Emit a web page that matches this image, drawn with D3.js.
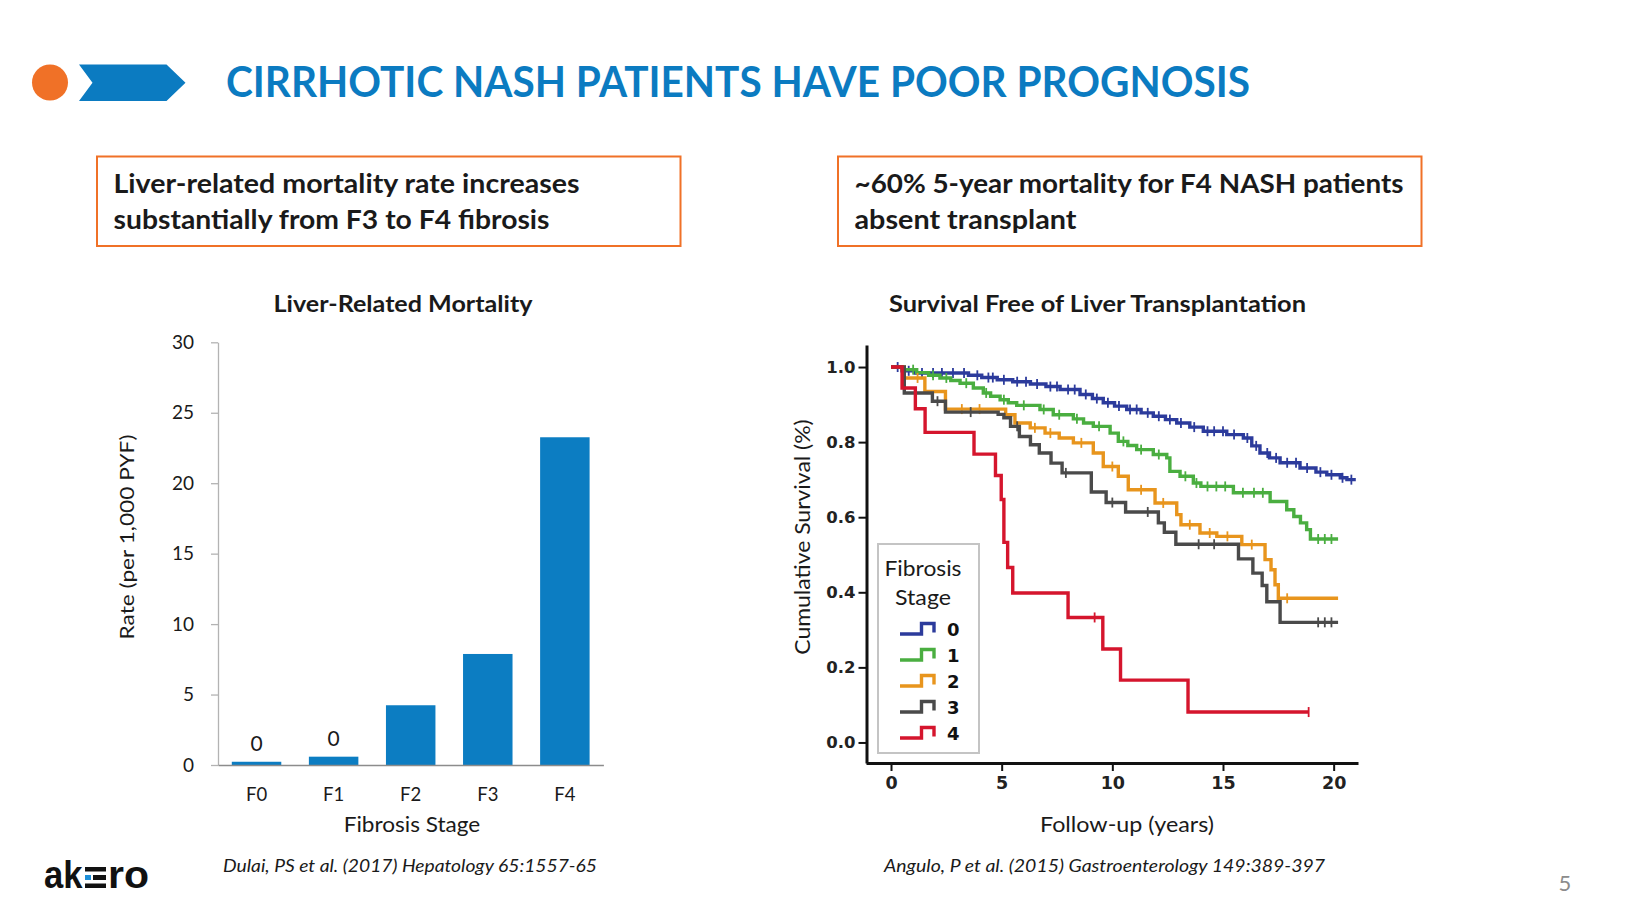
<!DOCTYPE html>
<html><head><meta charset="utf-8">
<script src="https://cdn.jsdelivr.net/npm/d3@7/dist/d3.min.js"></script>
<style>
html,body{margin:0;padding:0;background:#fff;}
svg{display:block;}
</style></head><body>
<svg id="slide" width="1634" height="919"></svg>
<script>
// ---------- data ----------
const categories = ["F0", "F1", "F2", "F3", "F4"];
const rates = [0.23, 0.59, 4.24, 7.88, 23.26];
const rateLabels = ["0", "0", "", "", ""];
const rateTicks = [0, 5, 10, 15, 20, 25, 30];

const yearTicks = [0, 5, 10, 15, 20];
const survivalTicks = [0, 0.2, 0.4, 0.6, 0.8, 1.0];
const stageNames = ["0", "1", "2", "3", "4"];

// Kaplan-Meier steps [years, survival]
const stage0Steps = [[0,1],[0.5,0.99],[1.1,0.984],[3.5,0.978],[4.1,0.972],[4.8,0.966],[5.5,0.961],[6.3,0.955],[7.0,0.948],[7.64,0.94],[8.54,0.927],[9.1,0.916],[9.59,0.905],[10.1,0.896],[10.65,0.887],[11.3,0.878],[11.85,0.869],[12.4,0.86],[12.91,0.851],[13.5,0.84],[14.11,0.829],[15.17,0.82],[15.92,0.811],[16.3,0.79],[16.67,0.771],[17.1,0.758],[17.58,0.745],[18.48,0.731],[19.2,0.72],[19.69,0.713],[20.3,0.705],[20.6,0.7]];
const stage1Steps = [[0,1],[0.5,0.993],[1.16,0.985],[1.7,0.978],[2.21,0.971],[2.7,0.964],[3.12,0.957],[3.72,0.944],[4.17,0.931],[4.5,0.922],[4.93,0.913],[5.3,0.905],[5.68,0.898],[6.73,0.887],[7.33,0.873],[8.24,0.862],[8.7,0.851],[9.14,0.842],[9.9,0.824],[10.27,0.802],[10.7,0.791],[11.1,0.78],[11.85,0.767],[12.46,0.758],[12.6,0.722],[13.06,0.709],[13.66,0.691],[14.0,0.682],[15.47,0.665],[17.13,0.642],[17.88,0.62],[18.2,0.602],[18.5,0.585],[18.78,0.567],[18.95,0.542]];
const stage2Steps = [[0,1],[0.6,0.971],[1.53,0.935],[2.46,0.888],[5.18,0.873],[5.6,0.851],[6.29,0.838],[6.96,0.824],[7.6,0.811],[8.24,0.798],[9.14,0.771],[9.59,0.735],[10.27,0.709],[10.72,0.673],[11.93,0.638],[12.91,0.607],[13.1,0.58],[13.96,0.558],[14.72,0.549],[15.85,0.527],[16.9,0.487],[17.17,0.46],[17.35,0.42],[17.5,0.384]];
const stage3Steps = [[0,1],[0.6,0.931],[1.87,0.909],[2.46,0.88],[4.84,0.874],[5.1,0.865],[5.4,0.842],[5.8,0.815],[6.3,0.793],[6.7,0.771],[7.23,0.744],[7.73,0.718],[9.05,0.667],[9.72,0.639],[10.6,0.614],[12.08,0.585],[12.35,0.56],[12.87,0.528],[15.7,0.489],[16.35,0.451],[16.77,0.418],[16.98,0.375],[17.58,0.32]];
const stage4Steps = [[0,1],[0.5,0.944],[1.1,0.889],[1.54,0.826],[3.75,0.768],[4.72,0.711],[4.98,0.647],[5.1,0.533],[5.27,0.466],[5.5,0.398],[8.0,0.333],[9.57,0.249],[10.37,0.166],[13.42,0.081]];
const stageEnds = [21.0, 20.2, 20.2, 20.2, 18.87];

// censoring marks (years)
const stage0Censors = [0.3,0.8,1.4,1.9,2.3,2.8,3.3,3.9,4.4,4.6,5.1,5.7,6.1,6.6,7.2,7.5,8.0,8.3,8.8,9.3,9.8,10.3,10.8,11.1,11.6,12.1,12.6,13.1,13.7,14.3,14.6,15.0,15.5,16.1,16.5,17.0,17.4,17.9,18.3,18.8,19.4,19.9,20.4,20.8];
const stage1Censors = [1.0,1.9,2.5,3.4,4.3,5.1,6.0,6.9,7.6,8.4,9.4,10.5,11.3,12.1,13.3,13.8,14.3,14.7,15.1,15.9,16.4,16.8,19.3,19.6,19.9];
const stage2Censors = [1.2,3.2,4.0,6.5,7.2,8.6,10.0,11.3,12.3,13.5,14.4,15.2,16.3,17.9];
const stage3Censors = [2.1,3.6,5.7,7.9,10.0,11.6,13.9,14.6,19.3,19.6,19.9];
const stage4Censors = [9.2, 18.87];

const stageSteps = [stage0Steps, stage1Steps, stage2Steps, stage3Steps, stage4Steps];
const stageCensors = [stage0Censors, stage1Censors, stage2Censors, stage3Censors, stage4Censors];

// ---------- styles ----------
const BLUE = "#0b7bc1";
const ORANGE = "#f07127";
const stageColors = ["#2c3b9c", "#4aae40", "#e8951d", "#4a4a4a", "#d5152d"];
const SANS = "Lato, 'Open Sans', sans-serif";

const svg = d3.select("#slide");

// ---------- header ----------
svg.append("circle").attr("cx", 50).attr("cy", 82.5).attr("r", 18).attr("fill", ORANGE);
svg.append("polygon")
  .attr("points", [[79,64.5],[166.5,64.5],[185.5,82.8],[166.5,101],[79,101],[92.5,82.8]].map(p => p.join(",")).join(" "))
  .attr("fill", BLUE);
svg.append("text").attr("x", 226).attr("y", 97)
  .attr("font-family", SANS).attr("font-weight", 700).attr("font-size", 42)
  .attr("fill", BLUE).attr("textLength", 1024).attr("lengthAdjust", "spacingAndGlyphs")
  .text("CIRRHOTIC NASH PATIENTS HAVE POOR PROGNOSIS");

// ---------- callout boxes ----------
function callout(x, lines, widths) {
  svg.append("rect").attr("x", x).attr("y", 156.5).attr("width", 583.5).attr("height", 89.5)
    .attr("fill", "none").attr("stroke", ORANGE).attr("stroke-width", 2);
  lines.forEach((ln, i) => {
    svg.append("text").attr("x", x + 16.5).attr("y", 193 + i * 36)
      .attr("font-family", SANS).attr("font-weight", 700).attr("font-size", 26.5)
      .attr("fill", "#1a1a1a").attr("textLength", widths[i]).attr("lengthAdjust", "spacingAndGlyphs")
      .text(ln);
  });
}
callout(97, ["Liver-related mortality rate increases", "substantially from F3 to F4 fibrosis"], [466, 436]);
callout(838, ["~60% 5-year mortality for F4 NASH patients", "absent transplant"], [549, 222]);

// ---------- chart titles ----------
svg.append("text").attr("x", 403).attr("y", 312).attr("text-anchor", "middle")
  .attr("font-family", SANS).attr("font-weight", 700).attr("font-size", 22.5).attr("fill", "#1a1a1a")
  .attr("textLength", 259).attr("lengthAdjust", "spacingAndGlyphs").text("Liver-Related Mortality");
svg.append("text").attr("x", 1097.5).attr("y", 312).attr("text-anchor", "middle")
  .attr("font-family", SANS).attr("font-weight", 700).attr("font-size", 22.5).attr("fill", "#1a1a1a")
  .attr("textLength", 417).attr("lengthAdjust", "spacingAndGlyphs").text("Survival Free of Liver Transplantation");

// ---------- left bar chart ----------
const xL = d3.scaleBand().domain(categories).range([218, 603.4]).paddingInner(0.358).paddingOuter(0.179);
const yL = d3.scaleLinear().domain([0, 30]).range([765, 342.3]);

const gyL = svg.append("g").attr("transform", "translate(218,0)")
  .call(d3.axisLeft(yL).tickValues(rateTicks).tickSize(7).tickPadding(17).tickSizeOuter(0));
gyL.select(".domain").attr("stroke", "#b3b3b3").attr("stroke-width", 1.3);
gyL.selectAll(".tick line").attr("stroke", "#b3b3b3").attr("stroke-width", 1.3);
gyL.selectAll(".tick text").attr("font-family", SANS).attr("font-size", 19).attr("fill", "#1a1a1a");

svg.append("g").selectAll("rect").data(rates).join("rect")
  .attr("x", (d, i) => xL(categories[i]))
  .attr("y", d => yL(d))
  .attr("width", xL.bandwidth())
  .attr("height", d => yL(0) - yL(d))
  .attr("fill", "#0c7dc2");

svg.append("g").selectAll("text").data(rates).join("text")
  .attr("x", (d, i) => xL(categories[i]) + xL.bandwidth() / 2)
  .attr("y", d => yL(d) - 11)
  .attr("text-anchor", "middle")
  .attr("font-family", SANS).attr("font-size", 21).attr("fill", "#1a1a1a")
  .text((d, i) => rateLabels[i]);

const gxL = svg.append("g").attr("transform", "translate(0,765)")
  .call(d3.axisBottom(xL).tickSize(0).tickPadding(22.5).tickSizeOuter(0));
gxL.select(".domain").attr("stroke", "#8c8c8c").attr("stroke-width", 1.6);
gxL.selectAll(".tick text").attr("font-family", SANS).attr("font-size", 18.5).attr("fill", "#1a1a1a");

svg.append("text").attr("transform", "translate(134,537) rotate(-90)").attr("text-anchor", "middle")
  .attr("font-family", SANS).attr("font-size", 20).attr("fill", "#1a1a1a")
  .attr("textLength", 205).attr("lengthAdjust", "spacingAndGlyphs").text("Rate (per 1,000 PYF)");
svg.append("text").attr("x", 412).attr("y", 832).attr("text-anchor", "middle")
  .attr("font-family", SANS).attr("font-size", 20.5).attr("fill", "#1a1a1a")
  .attr("textLength", 136.5).attr("lengthAdjust", "spacingAndGlyphs").text("Fibrosis Stage");

// ---------- right survival chart ----------
const xR = d3.scaleLinear().domain([-1.13, 21.1]).range([866, 1358]);
const yR = d3.scaleLinear().domain([-0.0547, 1.0587]).range([763, 345]);
const MONO = "'DejaVu Sans', Verdana, sans-serif";

const gyR = svg.append("g").attr("transform", "translate(866.5,0)")
  .call(d3.axisLeft(yR).tickValues(survivalTicks).tickFormat(d3.format(".1f")).tickSize(8).tickPadding(3).tickSizeOuter(0));
gyR.select(".domain").attr("stroke", "#111").attr("stroke-width", 3);
gyR.selectAll(".tick line").attr("stroke", "#111").attr("stroke-width", 2);
gyR.selectAll(".tick text").attr("font-family", MONO).attr("font-weight", 700).attr("font-size", 16.5).attr("fill", "#222");

const gxR = svg.append("g").attr("transform", "translate(0,763)")
  .call(d3.axisBottom(xR).tickValues(yearTicks).tickSize(8).tickPadding(6).tickSizeOuter(0));
gxR.select(".domain").attr("stroke", "#111").attr("stroke-width", 3);
gxR.selectAll(".tick line").attr("stroke", "#111").attr("stroke-width", 2);
gxR.selectAll(".tick text").attr("font-family", MONO).attr("font-weight", 700).attr("font-size", 17.5).attr("fill", "#222");

const stepLine = d3.line().x(d => xR(d[0])).y(d => yR(d[1])).curve(d3.curveStepAfter);
function survAt(steps, t) {
  let s = steps[0][1];
  for (const p of steps) { if (p[0] <= t) s = p[1]; else break; }
  return s;
}

const curves = svg.append("g");
stageSteps.forEach((steps, i) => {
  const pts = steps.concat([[stageEnds[i], steps[steps.length - 1][1]]]);
  curves.append("path").attr("d", stepLine(pts)).attr("fill", "none")
    .attr("stroke", stageColors[i]).attr("stroke-width", 3.4).attr("stroke-linejoin", "miter");
  curves.append("g").selectAll("line").data(stageCensors[i]).join("line")
    .attr("x1", t => xR(t)).attr("x2", t => xR(t))
    .attr("y1", t => yR(survAt(steps, t)) - 5).attr("y2", t => yR(survAt(steps, t)) + 5)
    .attr("stroke", stageColors[i]).attr("stroke-width", 1.8);
});

svg.append("text").attr("transform", "translate(809.5,537) rotate(-90)").attr("text-anchor", "middle")
  .attr("font-family", SANS).attr("font-size", 20.5).attr("fill", "#1a1a1a")
  .attr("textLength", 235.5).attr("lengthAdjust", "spacingAndGlyphs").text("Cumulative Survival (%)");
svg.append("text").attr("x", 1127).attr("y", 832).attr("text-anchor", "middle")
  .attr("font-family", SANS).attr("font-size", 20.5).attr("fill", "#1a1a1a")
  .attr("textLength", 174).attr("lengthAdjust", "spacingAndGlyphs").text("Follow-up (years)");

// legend
const leg = svg.append("g");
leg.append("rect").attr("x", 878).attr("y", 544).attr("width", 101).attr("height", 209)
  .attr("fill", "#fff").attr("stroke", "#c4c4c4").attr("stroke-width", 2);
leg.append("text").attr("x", 923).attr("y", 576).attr("text-anchor", "middle")
  .attr("font-family", SANS).attr("font-size", 22).attr("fill", "#1a1a1a")
  .attr("textLength", 77).attr("lengthAdjust", "spacingAndGlyphs").text("Fibrosis");
leg.append("text").attr("x", 923).attr("y", 605).attr("text-anchor", "middle")
  .attr("font-family", SANS).attr("font-size", 22).attr("fill", "#1a1a1a")
  .attr("textLength", 56).attr("lengthAdjust", "spacingAndGlyphs").text("Stage");
stageNames.forEach((nm, i) => {
  const cy = 629 + i * 26;
  const iconPts = [[900, cy + 5], [921.5, cy + 5], [921.5, cy - 5.5], [934, cy - 5.5], [934, cy + 3.5]];
  leg.append("path").attr("d", d3.line()(iconPts)).attr("fill", "none")
    .attr("stroke", stageColors[i]).attr("stroke-width", 3.4);
  leg.append("text").attr("x", 947).attr("y", cy + 6.5)
    .attr("font-family", MONO).attr("font-weight", 700).attr("font-size", 18).attr("fill", "#111")
    .text(nm);
});

// ---------- footer ----------
svg.append("text").attr("x", 223).attr("y", 872)
  .attr("font-family", SANS).attr("font-style", "italic").attr("font-size", 18).attr("fill", "#1a1a1a")
  .attr("textLength", 374).attr("lengthAdjust", "spacingAndGlyphs").text("Dulai, PS et al. (2017) Hepatology 65:1557-65");
svg.append("text").attr("x", 884).attr("y", 872)
  .attr("font-family", SANS).attr("font-style", "italic").attr("font-size", 18).attr("fill", "#1a1a1a")
  .attr("textLength", 441).attr("lengthAdjust", "spacingAndGlyphs").text("Angulo, P et al. (2015) Gastroenterology 149:389-397");
svg.append("text").attr("x", 1565).attr("y", 891).attr("text-anchor", "middle")
  .attr("font-family", SANS).attr("font-size", 22).attr("fill", "#8c8c8c").text("5");

// logo
const logo = svg.append("g");
logo.append("text").attr("x", 44).attr("y", 888)
  .attr("font-family", "'Liberation Sans', Arial, sans-serif").attr("font-weight", 700).attr("font-size", 38)
  .attr("fill", "#111").attr("textLength", 38.5).attr("lengthAdjust", "spacingAndGlyphs").text("ak");
logo.append("rect").attr("x", 85).attr("y", 867).attr("width", 21).attr("height", 4.5).attr("fill", "#111");
logo.append("rect").attr("x", 85).attr("y", 875).attr("width", 6).attr("height", 5).attr("fill", "#1d8fd8");
logo.append("rect").attr("x", 93).attr("y", 875).attr("width", 13).attr("height", 5).attr("fill", "#111");
logo.append("rect").attr("x", 85).attr("y", 883.5).attr("width", 21).attr("height", 4.5).attr("fill", "#111");
logo.append("text").attr("x", 108).attr("y", 888)
  .attr("font-family", "'Liberation Sans', Arial, sans-serif").attr("font-weight", 700).attr("font-size", 38)
  .attr("fill", "#111").attr("textLength", 41).attr("lengthAdjust", "spacingAndGlyphs").text("ro");
</script>
</body></html>
